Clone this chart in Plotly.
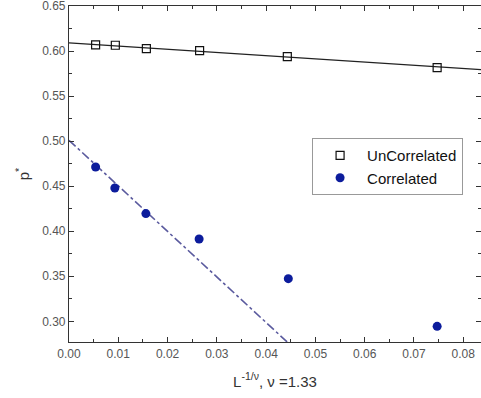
import plotly.graph_objects as go

# Data
x_uncorr = [0.0054, 0.0094, 0.0157, 0.0265, 0.0443, 0.0747]
y_uncorr = [0.6072, 0.6067, 0.6030, 0.6008, 0.5940, 0.5818]
x_corr = [0.0054, 0.0093, 0.0156, 0.0264, 0.0445, 0.0747]
y_corr = [0.4714, 0.4481, 0.4197, 0.3914, 0.3474, 0.2944]
fit_uncorr_x = [0.0, 0.0836]
fit_uncorr_y = [0.6094, 0.5797]
fit_corr_x = [0.0, 0.0455]
fit_corr_y = [0.5011, 0.2708]
x_ticks = [0.00, 0.01, 0.02, 0.03, 0.04, 0.05, 0.06, 0.07, 0.08]
y_ticks = [0.30, 0.35, 0.40, 0.45, 0.50, 0.55, 0.60, 0.65]

fig = go.Figure()
fig.add_trace(go.Scatter(x=fit_uncorr_x, y=fit_uncorr_y, mode="lines",
                         line=dict(color="#222222", width=1.2), showlegend=False,
                         hoverinfo="skip"))
fig.add_trace(go.Scatter(x=fit_corr_x, y=fit_corr_y, mode="lines",
                         line=dict(color="#5a5a9e", width=1.6, dash="dashdot"),
                         showlegend=False, hoverinfo="skip"))
fig.add_trace(go.Scatter(x=x_uncorr, y=y_uncorr, mode="markers", name="UnCorrelated",
                         marker=dict(symbol="square-open", size=8,
                                     color="#111111", line=dict(width=1.2))))
fig.add_trace(go.Scatter(x=x_corr, y=y_corr, mode="markers", name="Correlated",
                         marker=dict(symbol="circle", size=9, color="#0c1c9c")))

axis_common = dict(showline=True, linecolor="#333333", linewidth=1.2, mirror="ticks",
                   ticks="inside", ticklen=5, tickcolor="#333333", showgrid=False,
                   zeroline=False, automargin=False, ticklabeloverflow="allow",
                   tickfont=dict(family="Arial, Liberation Sans", size=12,
                                 color="#555555"))

fig.update_xaxes(range=[0, 0.0836], tickvals=x_ticks, tickformat=".2f",
                 minor=dict(ticks="inside", ticklen=3, dtick=0.005, tick0=0,
                            tickcolor="#333333"),
                 title=dict(text="L<sup>-1/ν</sup>, ν =1.33", standoff=16,
                            font=dict(family="Arial, Liberation Sans", size=15,
                                      color="#333333")),
                 **axis_common)
fig.update_yaxes(range=[0.277, 0.6503], tickvals=y_ticks, tickformat=".2f",
                 minor=dict(ticks="inside", ticklen=3, dtick=0.025, tick0=0,
                            tickcolor="#333333"),
                 title=dict(text="p<sup>*</sup>", standoff=8,
                            font=dict(family="Arial, Liberation Sans", size=15,
                                      color="#333333")),
                 **axis_common)

fig.update_layout(
    width=481, height=398,
    margin=dict(l=69, r=0, t=6, b=56),
    paper_bgcolor="white", plot_bgcolor="white",
    legend=dict(x=0.59, y=0.607, xanchor="left", yanchor="top",
                bgcolor="white", bordercolor="#999999", borderwidth=1,
                font=dict(family="Arial, Liberation Sans", size=15, color="#111111"),
                itemwidth=44, tracegroupgap=0),
)

fig.write_html("out.html", config={"displayModeBar": False},
               post_script="document.body.style.margin='0';document.body.style.overflow='hidden';")
